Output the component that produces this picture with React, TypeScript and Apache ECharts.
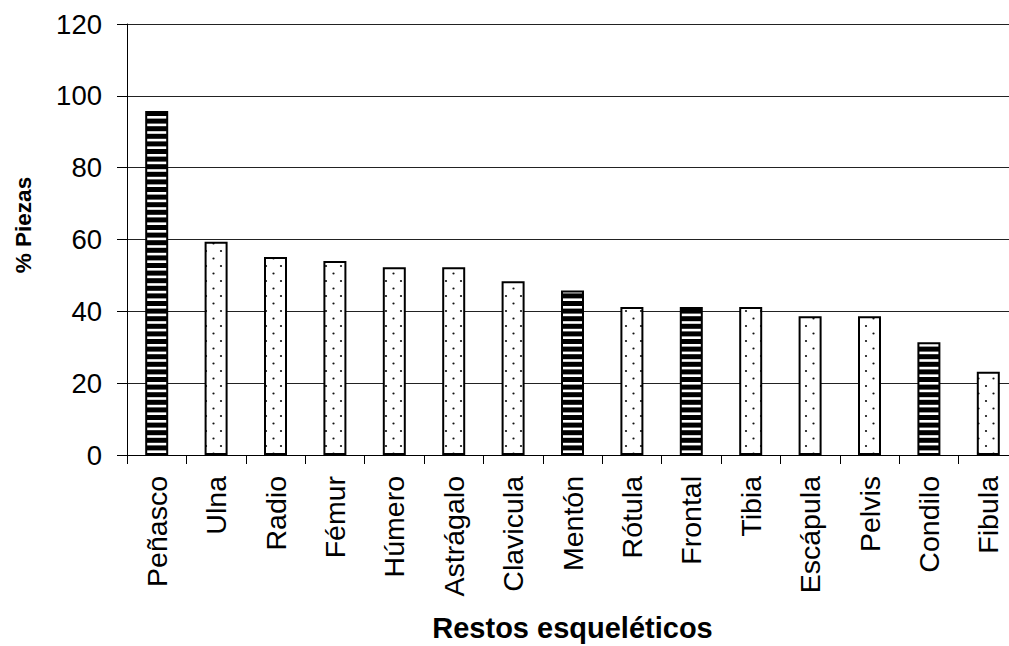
import React, { useEffect, useRef } from "react";
import * as echarts from "echarts";

// Skeletal elements and the share of pieces recovered for each
const categories = [
  "Peñasco", "Ulna", "Radio", "Fémur", "Húmero", "Astrágalo", "Clavicula",
  "Mentón", "Rótula", "Frontal", "Tibia", "Escápula", "Pelvis", "Condilo", "Fibula",
];
const percentages = [95.8, 59.4, 55.1, 54.0, 52.3, 52.3, 48.4, 45.8, 41.2, 41.2, 41.2, 38.6, 38.6, 31.4, 23.2];
// Cranial elements are striped, the rest dotted
const fillKinds = [
  "stripes", "dots", "dots", "dots", "dots", "dots", "dots",
  "stripes", "dots", "stripes", "dots", "dots", "dots", "stripes", "dots",
];
const yTicks = [0, 20, 40, 60, 80, 100, 120];

const FONT = 'Arial, "Liberation Sans", sans-serif';

function stripeCanvas(): HTMLCanvasElement {
  const c = document.createElement("canvas");
  const period = 7.6;
  const n = 5;
  c.width = 4;
  c.height = Math.round(period * n);
  const ctx = c.getContext("2d")!;
  ctx.fillStyle = "#000";
  ctx.fillRect(0, 0, c.width, c.height);
  ctx.fillStyle = "#fff";
  for (let i = 0; i < n; i++) {
    ctx.fillRect(0, i * period + 2, c.width, 2.6);
  }
  return c;
}

function dotCanvas(): HTMLCanvasElement {
  const c = document.createElement("canvas");
  c.width = 15;
  c.height = 15;
  const ctx = c.getContext("2d")!;
  ctx.fillStyle = "#fff";
  ctx.fillRect(0, 0, 15, 15);
  ctx.fillStyle = "#111";
  for (const [x, y] of [[3.5, 3.5], [11, 11]]) {
    ctx.beginPath();
    ctx.arc(x, y, 1.1, 0, Math.PI * 2);
    ctx.fill();
  }
  return c;
}

export default function App() {
  const ref = useRef<HTMLDivElement>(null);

  useEffect(() => {
    if (!ref.current) return;
    const chart = echarts.init(ref.current, null, { renderer: "svg" });
    const stripes = stripeCanvas();
    const dots = dotCanvas();
    const fillFor = (kind: string) => {
      const img = kind === "stripes" ? stripes : dots;
      return { image: img, repeat: "repeat", imageWidth: img.width, imageHeight: img.height };
    };

    chart.setOption({
      animation: false,
      backgroundColor: "#fff",
      grid: {
        left: 127,
        right: -9,
        top: 24,
        bottom: 191,
        containLabel: false,
        outerBoundsMode: "none",
      },
      xAxis: {
        type: "category",
        data: categories,
        name: "Restos esqueléticos",
        nameLocation: "middle",
        nameGap: 158,
        nameTextStyle: { fontFamily: FONT, fontSize: 29, fontWeight: "bold", color: "#000" },
        axisLine: { lineStyle: { color: "#000", width: 1 } },
        axisTick: { show: true, length: 9, lineStyle: { color: "#000" }, alignWithLabel: false },
        axisLabel: {
          rotate: 90,
          margin: 21,
          interval: 0,
          fontFamily: FONT,
          fontSize: 28.5,
          color: "#000",
        },
      },
      yAxis: {
        type: "value",
        min: yTicks[0],
        max: yTicks[yTicks.length - 1],
        interval: 20,
        axisLine: { show: true, lineStyle: { color: "#000", width: 1 } },
        axisTick: { show: true, length: 10, lineStyle: { color: "#000" } },
        axisLabel: { margin: 25, fontFamily: FONT, fontSize: 27.5, color: "#000" },
        splitLine: { show: true, lineStyle: { color: "#222", width: 1 } },
      },
      graphic: [
        {
          type: "text",
          x: 23,
          y: 225,
          rotation: Math.PI / 2,
          style: {
            text: "% Piezas",
            font: `bold 22.5px ${FONT}`,
            fill: "#000",
            align: "center",
            verticalAlign: "middle",
          },
        },
      ],
      series: [
        {
          type: "bar",
          barWidth: 23,
          data: percentages.map((v, i) => ({
            value: v,
            itemStyle: {
              color: fillFor(fillKinds[i]),
              borderColor: "#000",
              borderWidth: 2,
            },
          })),
        },
      ],
    });

    return () => chart.dispose();
  }, []);

  return (
    <div
      ref={ref}
      style={{ position: "absolute", left: 0, top: 0, width: 1009, height: 646, overflow: "hidden" }}
    />
  );
}
